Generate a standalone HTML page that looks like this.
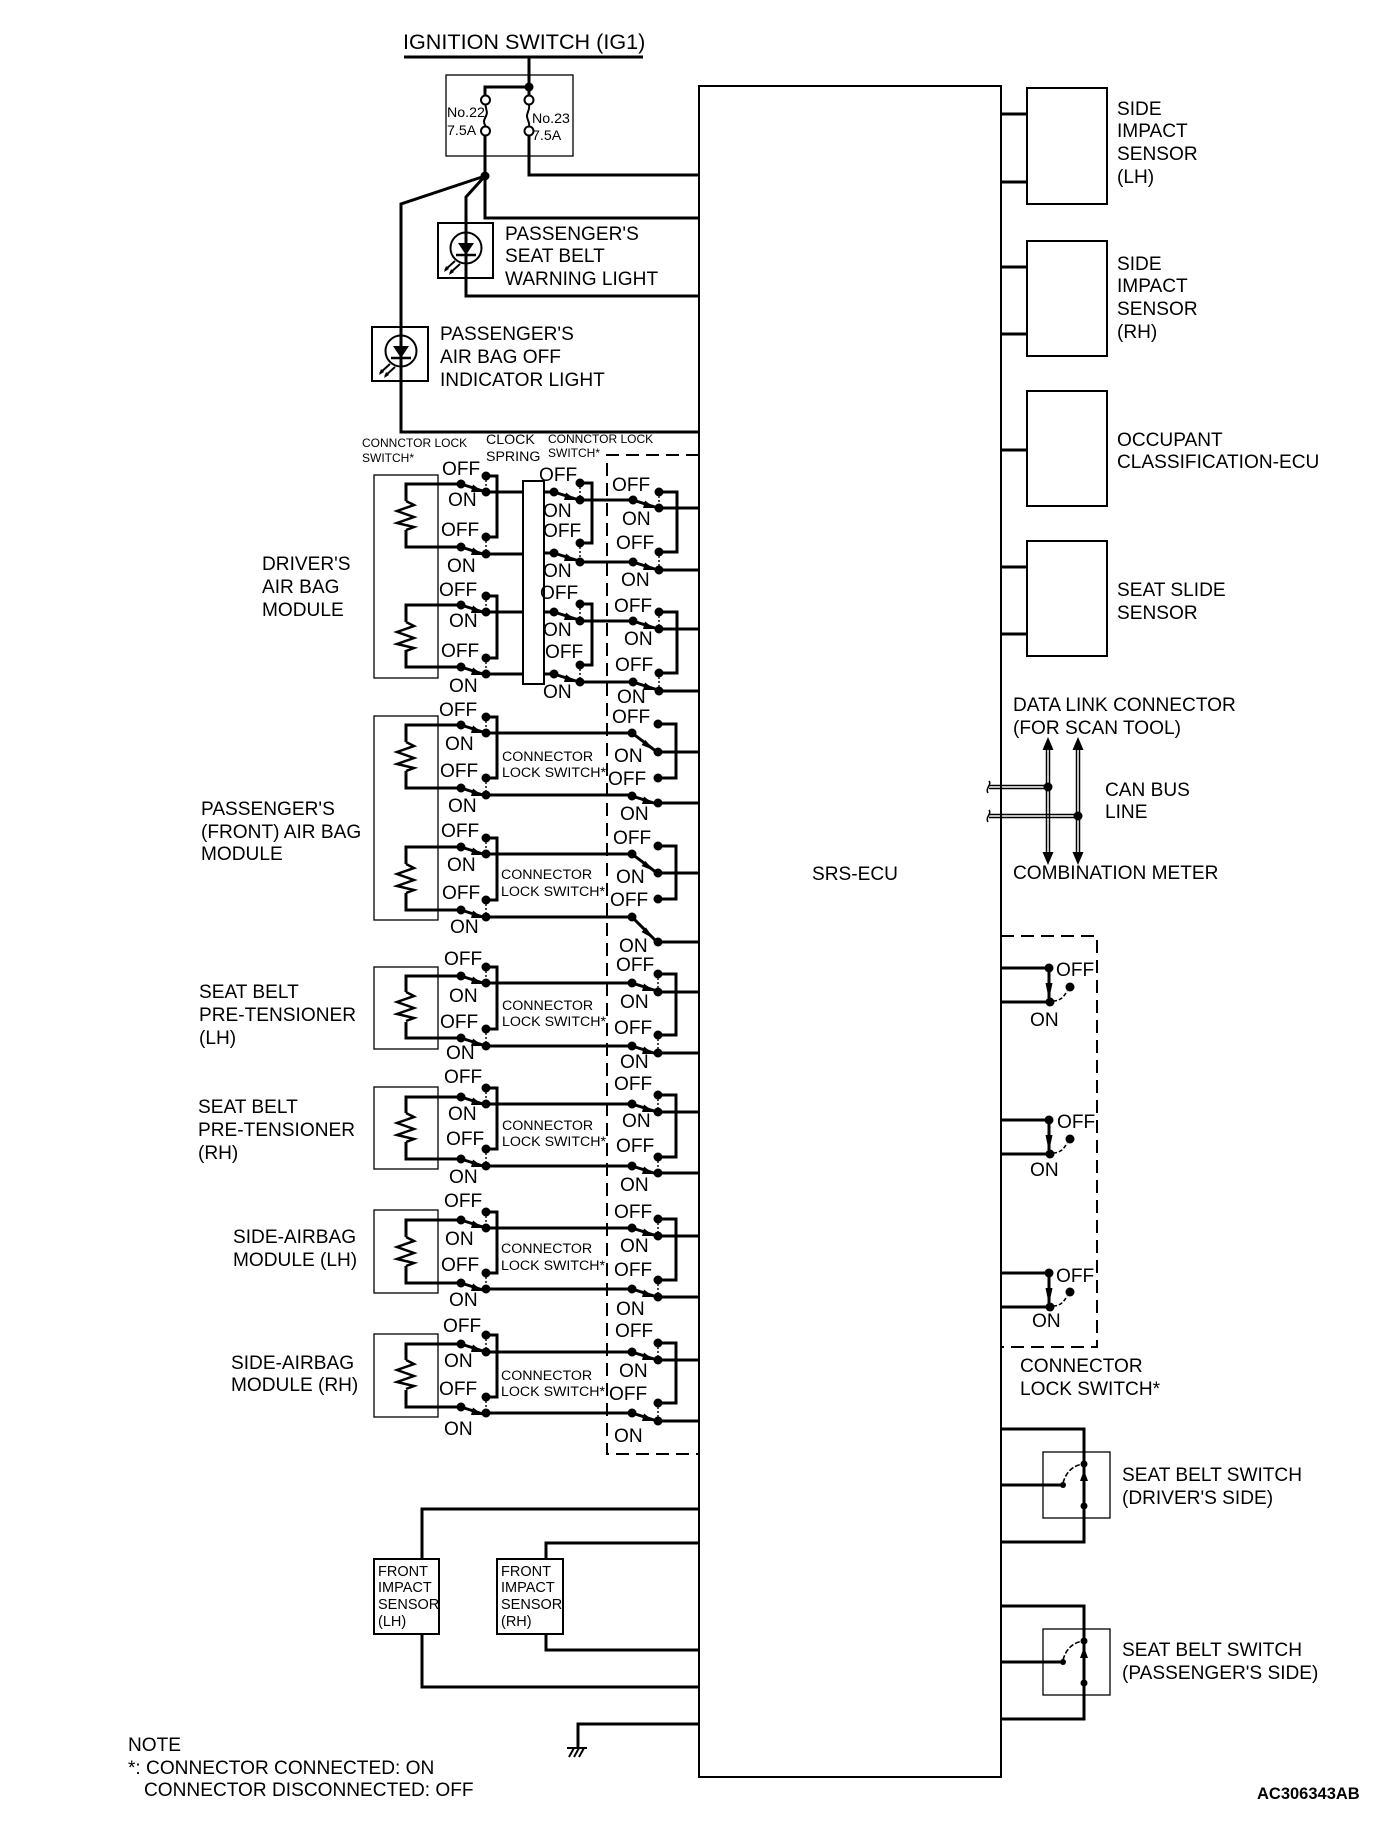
<!DOCTYPE html>
<html><head><meta charset="utf-8"><title>SRS-ECU</title>
<style>
html,body{margin:0;padding:0;background:#fff}
svg{display:block}
text{font-family:"Liberation Sans",Arial,sans-serif;font-size:19.1px;fill:#000;transform:translateY(-0.8px)}
.n{fill:none;stroke:#000}
.s12{font-size:12px}
.s14{font-size:14.2px}
.s{font-size:14.5px}
</style></head><body>
<svg xmlns="http://www.w3.org/2000/svg" width="1392" height="1836" viewBox="0 0 1392 1836">
<defs>
<g id="a"><path class="n" stroke-width="3" d="M0 0L25 8"/><path d="M22 8L12 0.5L10 8z"/></g>
<g id="b"><path class="n" stroke-width="3" d="M0 0L25 19"/><path d="M22 17L13.5 7L9.500 12z"/></g>
<g id="d"><path class="n" stroke-width="3" d="M0 0L25 25"/><path d="M22 22L14 10.500L9.500 15z"/></g>
<path id="z" class="n" stroke-width="2.5" d="M0 0L8 4L-9 10L8 16L-9 22L8 26L0 29"/>
<g id="c"><path class="n" stroke-width="3" d="M0 0V30"/><path d="M-3.500 15H3.500L1 27H-1z"/><circle cx="0" cy="0" r="4.500"/><circle cx="1" cy="34" r="4.500"/><circle cx="21" cy="19" r="4.500"/><path class="n" stroke-width="1.600" stroke-dasharray="4 2" d="M4 33C11 33 15 29 18 23"/></g>
<g id="w"><path d="M0 6L-4 17H4z"/><circle cx="0" cy="0" r="3.500"/><circle cx="0" cy="42" r="3.500"/><circle cx="-21" cy="21" r="3"/><path class="n" stroke-width="1.600" stroke-dasharray="5 2" d="M-21 19C-18 8 -11 1 0 0"/></g>
<g id="l"><circle class="n" stroke-width="2" cx="0" cy="0" r="15.500" fill="none"/><path d="M-8 -5H8L0 7z"/><path class="n" stroke-width="2.500" d="M-10 7H10"/><path class="n" stroke-width="2" d="M-21 22L-11 13M-16 25L-6 16"/><path d="M-22 24L-20 18L-17 21zM-17 27L-15 21L-12 24z"/></g>
</defs>

<!-- main ECU -->
<rect x="699" y="86" width="302" height="1691" fill="none" stroke="#000" stroke-width="2"/>

<!-- thin boxes -->
<g class="n" stroke-width="1.3" fill="none">
<rect x="446" y="75" width="127" height="81"/>
<rect x="374" y="475" width="64" height="203"/>
<rect x="374" y="716" width="64" height="204"/>
<rect x="374" y="967" width="64" height="82"/>
<rect x="374" y="1087" width="64" height="82"/>
<rect x="374" y="1210" width="64" height="83"/>
<rect x="374" y="1334" width="64" height="83"/>
<rect x="1043" y="1452" width="67" height="66"/>
<rect x="1043" y="1629" width="67" height="66"/>
</g>
<g class="n" stroke-width="2" fill="none">
<rect x="438" y="223" width="55" height="55"/>
<rect x="372" y="327" width="56" height="54"/>
<rect x="523" y="481" width="21" height="203"/>
<rect x="374" y="1559" width="65" height="75"/>
<rect x="497" y="1559" width="66" height="75"/>
<rect x="1027" y="88" width="80" height="116"/>
<rect x="1027" y="241" width="80" height="115"/>
<rect x="1027" y="391" width="80" height="115"/>
<rect x="1027" y="541" width="80" height="115"/>
</g>

<!-- dashed -->
<path class="n" stroke-width="2" stroke-dasharray="13 7" d="M699 455H607V1454H699"/>
<path class="n" stroke-width="2" stroke-dasharray="13 7" d="M1001 936H1097V1347H1001"/>

<!-- thick wires -->
<path class="n" stroke-width="3" d="
M404 57H643 M529 57V87H485V100 M529 87V100 M485 135V218H699 M529 135V175H699
M485 176L401 204V432H699 M485 176L466 197V296H699
M486 492H523M486 554H523M486 612H523M486 674H523
M544 492H554M544 553H554M544 612H554M544 674H554
M580 483H592V543H580M580 604H592V665H580
M580 500H633M580 562H633M580 621H633M580 682H633
M659 508H699M659 492H677V552H659M659 570H699
M659 629H699M659 612H677V673H659M659 691H699
M461 484H406V501M406 530V547H461M486 476H497V537H486
M461 605H406V622M406 650V667H461M486 596H497V658H486
M461 725H406V742M406 771V788H461M486 717H497V778H486
M461 847H406V864M406 893V910H461M486 838H497V900H486
M461 976H406V992M406 1022V1038H461M486 967H497V1029H486
M461 1097H406V1113M406 1142V1159H461M486 1088H497V1149H486
M461 1220H406V1237M406 1266V1283H461M486 1212H497V1273H486
M461 1344H406V1360M406 1390V1407H461M486 1335H497V1397H486
M486 733H632M486 795H632M658 752H699M658 724H676V778H658M658 803H699
M486 854H632M486 917H632M658 873H699M658 846H676V899H658M658 942H699
M486 983H632M486 1046H632M658 992H699M658 974H676V1035H658M658 1053H699
M486 1104H632M486 1166H632M658 1112H699M658 1095H676V1157H658M658 1173H699
M486 1228H632M486 1289H632M658 1236H699M658 1219H676V1280H658M658 1297H699
M486 1352H632M486 1413H632M658 1360H699M658 1343H676V1403H658M658 1421H699
M1001 114H1027M1001 182H1027M1001 267H1027M1001 334H1027M1001 450H1027M1001 567H1027M1001 634H1027
M1001 968H1049M1001 1002H1050M1001 1120H1049M1001 1154H1050M1001 1273H1049M1001 1307H1050
M1001 1429H1084V1542H1001M1001 1606H1084V1719H1001M1001 1485H1063M1001 1662H1063
M699 1509H422V1559M422 1634V1687H699M699 1543H546V1559M546 1634V1650H699M699 1724H578V1748"/>

<!-- dots -->
<path class="n" stroke-width="9" stroke-linecap="round" d="
M485 176h.01M529 87h.01
M461 484h.01M486 492h.01M486 476h.01M486 537h.01M461 547h.01M486 554h.01
M461 605h.01M486 612h.01M486 596h.01M486 658h.01M461 667h.01M486 674h.01
M461 725h.01M486 733h.01M486 717h.01M486 778h.01M461 788h.01M486 795h.01
M461 847h.01M486 854h.01M486 838h.01M486 900h.01M461 910h.01M486 917h.01
M461 976h.01M486 983h.01M486 967h.01M486 1029h.01M461 1038h.01M486 1046h.01
M461 1097h.01M486 1104h.01M486 1088h.01M486 1149h.01M461 1159h.01M486 1166h.01
M461 1220h.01M486 1228h.01M486 1212h.01M486 1273h.01M461 1283h.01M486 1289h.01
M461 1344h.01M486 1352h.01M486 1335h.01M486 1397h.01M461 1407h.01M486 1413h.01
M554 492h.01M580 500h.01M580 483h.01M580 543h.01M554 553h.01M580 562h.01
M554 612h.01M580 621h.01M580 604h.01M580 665h.01M554 674h.01M580 682h.01
M633 500h.01M659 508h.01M659 492h.01M659 552h.01M633 562h.01M659 570h.01
M633 621h.01M659 629h.01M659 612h.01M659 673h.01M633 682h.01M659 691h.01
M632 733h.01M658 752h.01M658 724h.01M658 778h.01M632 796h.01M658 803h.01
M632 854h.01M658 873h.01M658 846h.01M658 899h.01M632 917h.01M658 942h.01
M632 983h.01M658 992h.01M658 974h.01M658 1035h.01M632 1046h.01M658 1053h.01
M632 1104h.01M658 1112h.01M658 1095h.01M658 1157h.01M632 1166h.01M658 1173h.01
M632 1228h.01M658 1236h.01M658 1219h.01M658 1280h.01M632 1289h.01M658 1297h.01
M632 1352h.01M658 1360h.01M658 1343h.01M658 1403h.01M632 1413h.01M658 1421h.01
M1048 787h.01M1078 816h.01"/>

<!-- dotted links off/on -->
<path class="n" stroke-width="1.4" stroke-dasharray="2 2" d="
M486 476V492M486 537V554M486 596V612M486 658V674M486 717V733M486 778V795M486 838V854M486 900V917M486 967V983M486 1029V1046M486 1088V1104M486 1149V1166M486 1212V1228M486 1273V1289M486 1335V1352M486 1397V1413
M580 483V500M580 543V562M580 604V621M580 665V682
M659 492V508M659 552V570M659 612V629M659 673V691
M658 974V992M658 1035V1053M658 1095V1112M658 1157V1173M658 1219V1236M658 1280V1297M658 1343V1360M658 1403V1421"/>

<!-- switch arms -->
<use href="#a" x="461" y="484"/><use href="#a" x="461" y="547"/><use href="#a" x="461" y="605"/><use href="#a" x="461" y="667"/>
<use href="#a" x="461" y="725"/><use href="#a" x="461" y="788"/><use href="#a" x="461" y="847"/><use href="#a" x="461" y="910"/>
<use href="#a" x="461" y="976"/><use href="#a" x="461" y="1038"/><use href="#a" x="461" y="1097"/><use href="#a" x="461" y="1159"/>
<use href="#a" x="461" y="1220"/><use href="#a" x="461" y="1283"/><use href="#a" x="461" y="1344"/><use href="#a" x="461" y="1407"/>
<use href="#a" x="554" y="492"/><use href="#a" x="554" y="553"/><use href="#a" x="554" y="612"/><use href="#a" x="554" y="674"/>
<use href="#a" x="633" y="500"/><use href="#a" x="633" y="562"/><use href="#a" x="633" y="621"/><use href="#a" x="633" y="682"/>
<use href="#b" x="632" y="733"/><use href="#a" x="632" y="796"/><use href="#b" x="632" y="854"/><use href="#d" x="632" y="917"/>
<use href="#a" x="632" y="983"/><use href="#a" x="632" y="1046"/><use href="#a" x="632" y="1104"/><use href="#a" x="632" y="1166"/>
<use href="#a" x="632" y="1228"/><use href="#a" x="632" y="1289"/><use href="#a" x="632" y="1352"/><use href="#a" x="632" y="1413"/>

<!-- resistors -->
<use href="#z" x="406" y="501"/><use href="#z" x="406" y="622"/><use href="#z" x="406" y="742"/><use href="#z" x="406" y="864"/>
<use href="#z" x="406" y="992"/><use href="#z" x="406" y="1113"/><use href="#z" x="406" y="1237"/><use href="#z" x="406" y="1360"/>

<!-- fuses -->
<circle cx="485.500" cy="100" r="4.500" fill="#fff" stroke="#000" stroke-width="2"/>
<circle cx="529" cy="100" r="4.500" fill="#fff" stroke="#000" stroke-width="2"/>
<circle cx="485.500" cy="131" r="4.500" fill="#fff" stroke="#000" stroke-width="2"/>
<circle cx="529" cy="131" r="4.500" fill="#fff" stroke="#000" stroke-width="2"/>
<path class="n" stroke-width="2" d="M485.500 105C486 110 488 112 486 116S483 122 485.500 126M529 105C530 110 527 112 527 116S530 122 529 126"/>

<!-- lamps -->
<use href="#l" x="466" y="248"/><use href="#l" x="401" y="351"/>

<!-- CAN bus -->
<path class="n" stroke-width="1.500" d="M1046.500 745V858M1049.500 745V858M1076.500 745V858M1079.500 745V858M989 785.500H1048M989 788.500H1048M989 814.500H1078M989 817.500H1078M989 781C992 785 985 788 988 793M989 810C992 814 985 817 988 822"/>
<path d="M1048 737L1042.500 750H1053.500zM1078 737L1072.500 750H1083.500zM1048 865L1042.500 852H1053.500zM1078 865L1072.500 852H1083.500z"/>

<!-- connector lock switch right -->
<use href="#c" x="1049" y="968"/><use href="#c" x="1049" y="1120"/><use href="#c" x="1049" y="1273"/>

<!-- seat belt switches -->
<use href="#w" x="1084" y="1464"/><use href="#w" x="1084" y="1641"/>

<!-- ground -->
<path class="n" stroke-width="2" d="M567 1748H587M574 1748L569 1757M579 1748L574 1757M584 1748L579 1757"/>

<!-- labels -->
<text x="403" y="50" style="font-size:21.6px">IGNITION SWITCH (IG1)</text>
<text x="447" y="118" class="s14">No.22</text><text x="447" y="136" class="s14">7.5A</text>
<text x="532" y="124" class="s14">No.23</text><text x="532" y="141" class="s14">7.5A</text>
<text x="505" y="241">PASSENGER'S</text><text x="505" y="263">SEAT BELT</text><text x="505" y="286">WARNING LIGHT</text>
<text x="440" y="341">PASSENGER'S</text><text x="440" y="364">AIR BAG OFF</text><text x="440" y="387">INDICATOR LIGHT</text>
<text x="362" y="448" class="s12">CONNCTOR LOCK</text><text x="362" y="463" class="s12">SWITCH*</text>
<text x="486" y="445" class="s14">CLOCK</text><text x="486" y="462" class="s14">SPRING</text>
<text x="548" y="444" class="s12">CONNCTOR LOCK</text><text x="548" y="458" class="s12">SWITCH*</text>

<text x="262" y="571">DRIVER'S</text><text x="262" y="594">AIR BAG</text><text x="262" y="617">MODULE</text>
<text x="201" y="816">PASSENGER'S</text><text x="201" y="839">(FRONT) AIR BAG</text><text x="201" y="861">MODULE</text>
<text x="199" y="999">SEAT BELT</text><text x="199" y="1022">PRE-TENSIONER</text><text x="199" y="1045">(LH)</text>
<text x="198" y="1114">SEAT BELT</text><text x="198" y="1137">PRE-TENSIONER</text><text x="198" y="1160">(RH)</text>
<text x="233" y="1244">SIDE-AIRBAG</text><text x="233" y="1267">MODULE (LH)</text>
<text x="231" y="1370">SIDE-AIRBAG</text><text x="231" y="1392">MODULE (RH)</text>

<text x="442" y="476">OFF</text><text x="448" y="507">ON</text><text x="441" y="537">OFF</text><text x="447" y="573">ON</text>
<text x="439" y="597">OFF</text><text x="449" y="628">ON</text><text x="441" y="658">OFF</text><text x="449" y="693">ON</text>
<text x="539" y="482">OFF</text><text x="543" y="518">ON</text><text x="543" y="538">OFF</text><text x="543" y="578">ON</text>
<text x="540" y="600">OFF</text><text x="543" y="637">ON</text><text x="545" y="659">OFF</text><text x="543" y="699">ON</text>
<text x="612" y="492">OFF</text><text x="622" y="526">ON</text><text x="616" y="550">OFF</text><text x="621" y="587">ON</text>
<text x="614" y="613">OFF</text><text x="624" y="646">ON</text><text x="615" y="672">OFF</text><text x="617" y="704">ON</text>
<text x="439" y="717">OFF</text><text x="445" y="751">ON</text><text x="440" y="778">OFF</text><text x="448" y="813">ON</text>
<text x="441" y="838">OFF</text><text x="447" y="872">ON</text><text x="442" y="900">OFF</text><text x="450" y="934">ON</text>
<text x="444" y="966">OFF</text><text x="449" y="1003">ON</text><text x="440" y="1029">OFF</text><text x="446" y="1060">ON</text>
<text x="612" y="724">OFF</text><text x="614" y="763">ON</text><text x="608" y="786">OFF</text><text x="620" y="821">ON</text>
<text x="613" y="845">OFF</text><text x="616" y="884">ON</text><text x="610" y="907">OFF</text><text x="619" y="953">ON</text>
<text x="616" y="972">OFF</text><text x="620" y="1009">ON</text><text x="614" y="1035">OFF</text><text x="620" y="1069">ON</text>
<text x="444" y="1084">OFF</text><text x="448" y="1121">ON</text><text x="446" y="1146">OFF</text><text x="449" y="1184">ON</text>
<text x="444" y="1208">OFF</text><text x="445" y="1246">ON</text><text x="441" y="1272">OFF</text><text x="449" y="1307">ON</text>
<text x="443" y="1333">OFF</text><text x="444" y="1368">ON</text><text x="439" y="1396">OFF</text><text x="444" y="1436">ON</text>
<text x="614" y="1091">OFF</text><text x="622" y="1128">ON</text><text x="616" y="1153">OFF</text><text x="620" y="1192">ON</text>
<text x="614" y="1219">OFF</text><text x="620" y="1253">ON</text><text x="614" y="1277">OFF</text><text x="616" y="1316">ON</text>
<text x="615" y="1338">OFF</text><text x="619" y="1378">ON</text><text x="609" y="1401">OFF</text><text x="614" y="1443">ON</text>

<text x="502" y="762" class="s14">CONNECTOR</text><text x="502" y="778" class="s14">LOCK SWITCH*</text>
<text x="501" y="880" class="s14">CONNECTOR</text><text x="501" y="897" class="s14">LOCK SWITCH*</text>
<text x="502" y="1011" class="s14">CONNECTOR</text><text x="502" y="1027" class="s14">LOCK SWITCH*</text>
<text x="502" y="1131" class="s14">CONNECTOR</text><text x="502" y="1147" class="s14">LOCK SWITCH*</text>
<text x="501" y="1254" class="s14">CONNECTOR</text><text x="501" y="1271" class="s14">LOCK SWITCH*</text>
<text x="501" y="1381" class="s14">CONNECTOR</text><text x="501" y="1397" class="s14">LOCK SWITCH*</text>

<text x="812" y="881">SRS-ECU</text>

<text x="1117" y="116">SIDE</text><text x="1117" y="138">IMPACT</text><text x="1117" y="161">SENSOR</text><text x="1117" y="184">(LH)</text>
<text x="1117" y="271">SIDE</text><text x="1117" y="293">IMPACT</text><text x="1117" y="316">SENSOR</text><text x="1117" y="339">(RH)</text>
<text x="1117" y="447">OCCUPANT</text><text x="1117" y="469">CLASSIFICATION-ECU</text>
<text x="1117" y="597">SEAT SLIDE</text><text x="1117" y="620">SENSOR</text>
<text x="1013" y="712">DATA LINK CONNECTOR</text><text x="1013" y="735">(FOR SCAN TOOL)</text>
<text x="1105" y="797">CAN BUS</text><text x="1105" y="819">LINE</text>
<text x="1013" y="880">COMBINATION METER</text>
<text x="1056" y="977">OFF</text><text x="1030" y="1027">ON</text>
<text x="1057" y="1129">OFF</text><text x="1030" y="1177">ON</text>
<text x="1056" y="1283">OFF</text><text x="1032" y="1328">ON</text>
<text x="1020" y="1373">CONNECTOR</text><text x="1020" y="1396">LOCK SWITCH*</text>
<text x="1122" y="1482">SEAT BELT SWITCH</text><text x="1122" y="1505">(DRIVER'S SIDE)</text>
<text x="1122" y="1657">SEAT BELT SWITCH</text><text x="1122" y="1680">(PASSENGER'S SIDE)</text>

<text x="378" y="1577" class="s">FRONT</text>
<text x="378" y="1593" class="s">IMPACT</text>
<text x="378" y="1610" class="s">SENSOR</text>
<text x="378" y="1627" class="s">(LH)</text>
<text x="501" y="1577" class="s">FRONT</text>
<text x="501" y="1593" class="s">IMPACT</text>
<text x="501" y="1610" class="s">SENSOR</text>
<text x="501" y="1627" class="s">(RH)</text>

<text x="128" y="1752">NOTE</text>
<text x="128" y="1775">*: CONNECTOR CONNECTED: ON</text>
<text x="144" y="1797">CONNECTOR DISCONNECTED: OFF</text>
<text x="1257" y="1800" style="font-size:16.5px;font-weight:bold">AC306343AB</text>
</svg>
</body></html>
